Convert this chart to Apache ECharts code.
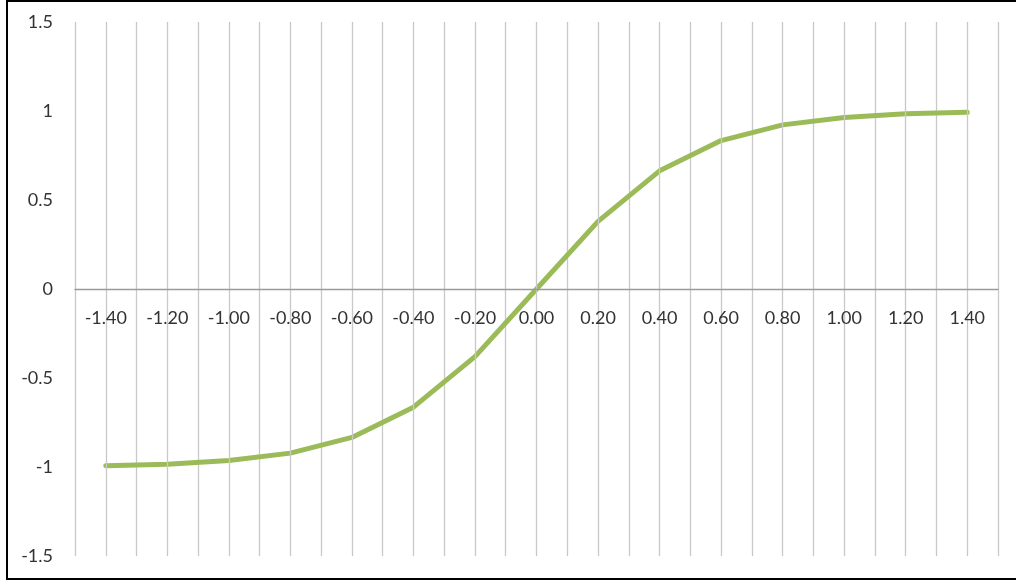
<!DOCTYPE html>
<html>
<head>
<meta charset="utf-8">
<script src="https://cdn.jsdelivr.net/npm/echarts@6/dist/echarts.min.js"></script>
<style>
  html, body { margin: 0; padding: 0; background: #fff; }
  #frame { position: absolute; left: 6px; top: 0; width: 1016px; height: 580px; border: 2px solid #000; border-right: none; box-sizing: border-box; }
  #chart { position: absolute; left: 0; top: 0; width: 1016px; height: 581px; }
</style>
</head>
<body>
<div id="frame"></div>
<div id="chart"></div>
<script>
// x categories and tanh-like response values
const categories = ['-1.40', '-1.20', '-1.00', '-0.80', '-0.60', '-0.40', '-0.20', '0.00',
                    '0.20', '0.40', '0.60', '0.80', '1.00', '1.20', '1.40'];
const values = [-0.993, -0.984, -0.964, -0.922, -0.834, -0.664, -0.380, 0.000,
                0.380, 0.664, 0.834, 0.922, 0.964, 0.984, 0.993];
const yTicks = { min: -1.5, max: 1.5, step: 0.5 };

const labelFont = { fontFamily: 'Lato, "Open Sans", sans-serif', fontSize: 18, color: '#333333' };
const gridLine = { color: '#c8c8c8', width: 1.3, type: 'solid' };

const W = 1016, H = 581;
const plot = { left: 75, right: 18, top: 22, bottom: 25 };
// pixel row of y = 0 inside the plot, used to place the category axis there
const zeroY = plot.top + (H - plot.top - plot.bottom) * (yTicks.max - 0) / (yTicks.max - yTicks.min);

const chart = echarts.init(document.getElementById('chart'), null, { renderer: 'canvas' });
chart.setOption({
  animation: false,
  grid: [
    Object.assign({ outerBoundsMode: 'none' }, plot),
    // upper half: its bottom edge is the zero line carrying the category labels
    { left: plot.left, right: plot.right, top: plot.top, bottom: H - zeroY, outerBoundsMode: 'none' }
  ],
  xAxis: [
    {
      gridIndex: 0,
      type: 'category',
      data: categories,
      boundaryGap: true,
      axisLine: { show: false },
      axisTick: { show: false },
      axisLabel: { show: false },
      // band boundaries
      splitLine: { show: true, interval: 0, lineStyle: gridLine }
    },
    {
      gridIndex: 1,
      type: 'category',
      data: categories,
      boundaryGap: true,
      position: 'bottom',
      axisLine: { show: true, onZero: false, lineStyle: { color: '#9a9a9a', width: 1.3 } },
      axisTick: { show: false },
      axisLabel: Object.assign({ margin: 20, interval: 0 }, labelFont),
      splitLine: { show: false },
      z: 5
    }
  ],
  yAxis: [
    {
      gridIndex: 0,
      type: 'value',
      min: yTicks.min,
      max: yTicks.max,
      interval: yTicks.step,
      axisLine: { show: false },
      axisTick: { show: false },
      splitLine: { show: false },
      axisLabel: Object.assign({ margin: 22 }, labelFont)
    },
    {
      gridIndex: 1,
      type: 'value',
      min: 0,
      max: yTicks.max,
      show: false
    }
  ],
  series: [
    {
      // vertical grid lines through each category centre, kept beneath the curve
      type: 'line',
      xAxisIndex: 0,
      yAxisIndex: 0,
      data: [],
      silent: true,
      z: 1,
      markLine: {
        silent: true,
        symbol: ['none', 'none'],
        label: { show: false },
        lineStyle: gridLine,
        emphasis: { disabled: true },
        data: categories.map(c => ({ xAxis: c }))
      }
    },
    {
      type: 'line',
      xAxisIndex: 0,
      yAxisIndex: 0,
      data: values,
      showSymbol: false,
      symbol: 'none',
      lineStyle: { color: '#9bbb59', width: 5, cap: 'round', join: 'round' },
      z: 3
    }
  ]
});
</script>
</body>
</html>
